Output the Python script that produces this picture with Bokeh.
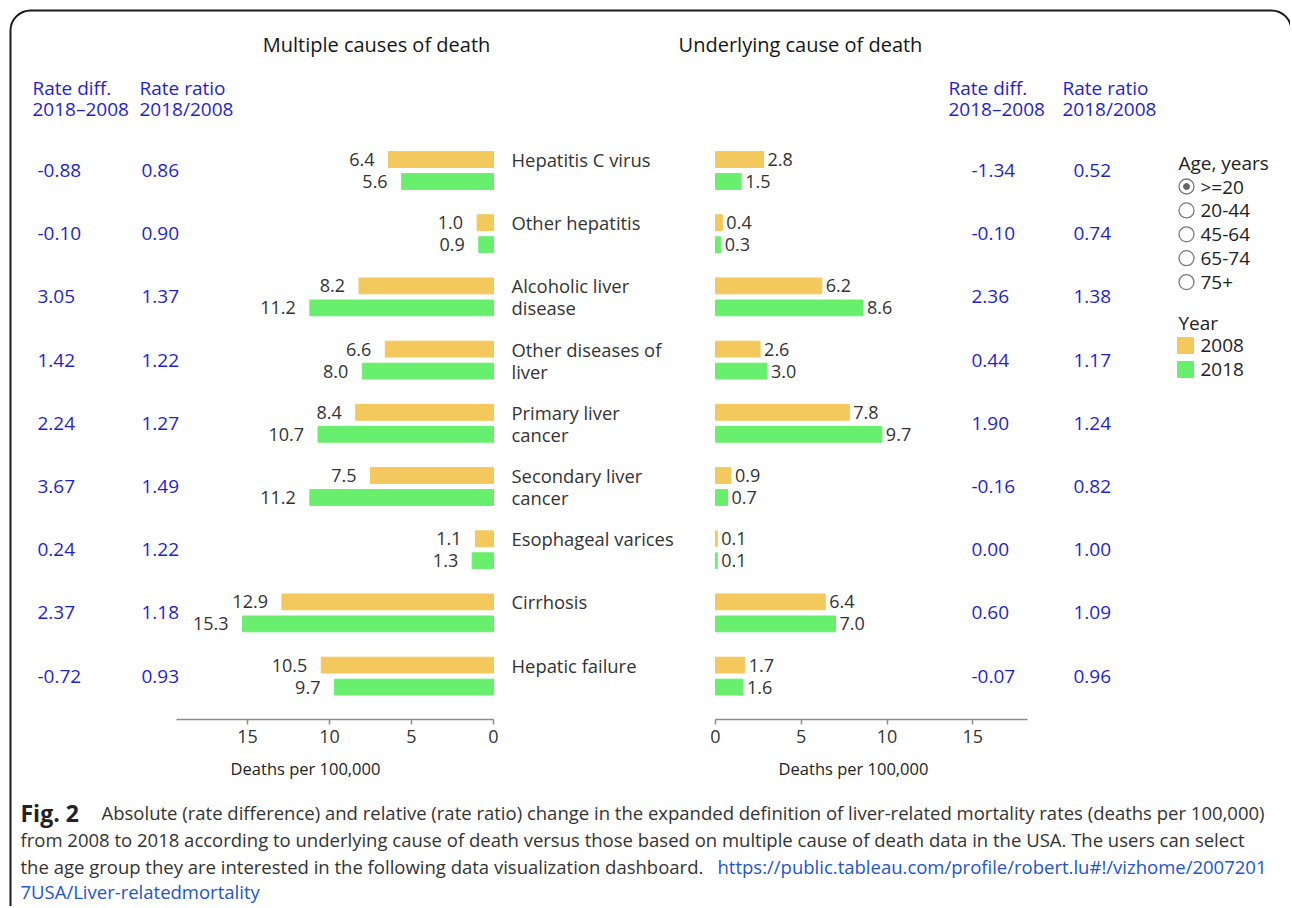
from bokeh.plotting import figure
from bokeh.models import Range1d, LinearAxis, FixedTicker, ColumnDataSource
from bokeh.core.properties import value
from bokeh.embed import file_html
from bokeh.resources import INLINE

# ---------------- data ----------------
categories = ["Hepatitis C virus", "Other hepatitis", "Alcoholic liver\ndisease",
              "Other diseases of\nliver", "Primary liver\ncancer", "Secondary liver\ncancer",
              "Esophageal varices", "Cirrhosis", "Hepatic failure"]
mc_2008 = [6.4, 1.0, 8.2, 6.6, 8.4, 7.5, 1.1, 12.9, 10.5]
mc_2018 = [5.6, 0.9, 11.2, 8.0, 10.7, 11.2, 1.3, 15.3, 9.7]
uc_2008 = [2.8, 0.4, 6.2, 2.6, 7.8, 0.9, 0.1, 6.4, 1.7]
uc_2018 = [1.5, 0.3, 8.6, 3.0, 9.7, 0.7, 0.1, 7.0, 1.6]
mc_diff = ["-0.88", "-0.10", "3.05", "1.42", "2.24", "3.67", "0.24", "2.37", "-0.72"]
mc_ratio = ["0.86", "0.90", "1.37", "1.22", "1.27", "1.49", "1.22", "1.18", "0.93"]
uc_diff = ["-1.34", "-0.10", "2.36", "0.44", "1.90", "-0.16", "0.00", "0.60", "-0.07"]
uc_ratio = ["0.52", "0.74", "1.38", "1.17", "1.24", "0.82", "1.00", "1.09", "0.96"]
axis_ticks = [0, 5, 10, 15]
age_groups = [">=20", "20-44", "45-64", "65-74", "75+"]
years = ["2008", "2018"]
year_colors = ["#F3C85C", "#69EF6E"]

title_mc = "Multiple causes of death"
title_uc = "Underlying cause of death"
axis_title = "Deaths per 100,000"
caption_bold = "Fig. 2"
caption_l1 = ("Absolute (rate difference) and relative (rate ratio) change in the expanded "
              "definition of liver-related mortality rates (deaths per 100,000)")
caption_l2 = ("from 2008 to 2018 according to underlying cause of death versus those based on "
              "multiple cause of death data in the USA. The users can select")
caption_l3 = "the age group they are interested in the following data visualization dashboard."
caption_link1 = "https://public.tableau.com/profile/robert.lu#!/vizhome/2007201"
caption_link2 = "7USA/Liver-relatedmortality"

# ---------------- layout constants ----------------
FONT = "Open Sans"
W, H = 1290, 906
PX0, PY0 = 0, 0
L0, LS = 493.0, 16.4     # left chart: zero position and px per unit (reversed)
R0, RS = 715.0, 17.15    # right chart
Y0, YS = 170.0, 63.2     # first row center, row pitch
OFF, BH = 0.174, 0.25
BLUE = "#1F1FD2"
DARK = "#333333"

p = figure(width=W, height=H, output_backend="svg", toolbar_location=None,
           x_axis_type=None, y_axis_type=None,
           x_range=Range1d(PX0, PX0 + W), y_range=Range1d(PY0 + H, PY0),
           min_border=0, outline_line_color=None, background_fill_color="white",
           border_fill_color="white")
p.extra_x_ranges = {
    "lx": Range1d((L0 - PX0) / LS, (L0 - PX0 - W) / LS),
    "rx": Range1d((PX0 - R0) / RS, (PX0 + W - R0) / RS),
}
p.extra_y_ranges = {"ry": Range1d((PY0 + H - Y0) / YS, (PY0 - Y0) / YS)}

rows = list(range(len(categories)))
rows_a = [r - OFF for r in rows]
rows_b = [r + OFF for r in rows]


def txt(xs, ys, texts, size="17px", color=DARK, align="left", baseline="middle",
        style="normal", xr="default", yr="default", x_offset=0):
    src = ColumnDataSource(dict(x=xs, y=ys, t=texts))
    p.text(x="x", y="y", text="t", source=src, text_font=value(FONT),
           text_font_size=value(size), text_color=color, text_align=align,
           text_baseline=baseline, text_font_style=style, x_offset=x_offset,
           x_range_name=xr, y_range_name=yr)


# border box
p.quad(left=[10], right=[1291], top=[10], bottom=[980], border_radius=20,
       fill_color=None, line_color="#1a1a1a", line_width=2)

# bars
for vals, ys, col in [(mc_2008, rows_a, year_colors[0]), (mc_2018, rows_b, year_colors[1])]:
    p.hbar(y=ys, left=0, right=vals, height=BH, color=col, x_range_name="lx", y_range_name="ry")
for vals, ys, col in [(uc_2008, rows_a, year_colors[0]), (uc_2018, rows_b, year_colors[1])]:
    p.hbar(y=ys, left=0, right=vals, height=BH, color=col, x_range_name="rx", y_range_name="ry")

# bar labels
BL = "18px"
txt(mc_2008, rows_a, [f"{v:.1f}" for v in mc_2008], size=BL, align="right", xr="lx", yr="ry", x_offset=-14)
txt(mc_2018, rows_b, [f"{v:.1f}" for v in mc_2018], size=BL, align="right", xr="lx", yr="ry", x_offset=-14)
txt(uc_2008, rows_a, [f"{v:.1f}" for v in uc_2008], size=BL, align="left", xr="rx", yr="ry", x_offset=4)
txt(uc_2018, rows_b, [f"{v:.1f}" for v in uc_2018], size=BL, align="left", xr="rx", yr="ry", x_offset=4)

# category labels
line1 = [c.split("\n")[0] for c in categories]
line2 = [c.split("\n")[1] if "\n" in c else "" for c in categories]
txt([511] * len(rows), rows_a, line1, size="18.4px", yr="ry")
txt([511] * len(rows), rows_b, line2, size="18.4px", yr="ry")

# rate columns
VS = "19px"
txt([37] * len(rows), rows, mc_diff, size=VS, color=BLUE, yr="ry")
txt([141] * len(rows), rows, mc_ratio, size=VS, color=BLUE, yr="ry")
txt([971] * len(rows), rows, uc_diff, size=VS, color=BLUE, yr="ry")
txt([1073] * len(rows), rows, uc_ratio, size=VS, color=BLUE, yr="ry")

# headers
txt([32, 139, 948, 1062], [87] * 4, ["Rate diff.", "Rate ratio", "Rate diff.", "Rate ratio"], size=VS, color=BLUE)
txt([32, 139, 948, 1062], [108] * 4, ["2018\u20132008", "2018/2008", "2018\u20132008", "2018/2008"], size=VS, color=BLUE)

# titles
txt([376, 800], [44, 44], [title_mc, title_uc], size="20px", color="#151515", align="center")
txt([305, 853], [768, 768], [axis_title, axis_title], size="16.5px", color="#222", align="center")

# axes
for rname, bnd in [("lx", (0, 19.3)), ("rx", (0, 18.2))]:
    ax = LinearAxis(x_range_name=rname, bounds=bnd, ticker=FixedTicker(ticks=axis_ticks),
                    fixed_location=719)
    ax.axis_line_color = "#8c8c8c"
    ax.axis_line_width = 1.5
    ax.major_tick_line_color = "#8c8c8c"
    ax.major_tick_line_width = 1.5
    ax.major_tick_in = 0
    ax.major_tick_out = 5
    ax.minor_tick_line_color = None
    ax.major_label_text_font = FONT
    ax.major_label_text_font_size = "18px"
    ax.major_label_text_color = "#333"
    ax.major_label_standoff = 5
    p.add_layout(ax, "below")

# legend: age
LF = "19px"
age_y = [186 + 23.9 * i for i in range(len(age_groups))]
txt([1178], [162], ["Age, years"], size=LF, color="#222")
p.scatter(x=[1186] * len(age_groups), y=age_y, marker="circle", size=15,
          fill_color="white", line_color="#7a7a7a", line_width=1.3)
p.scatter(x=[1186], y=age_y[:1], marker="circle", size=6, fill_color="#666", line_color="#666")
txt([1200] * len(age_groups), age_y, age_groups, size=LF, color="#222")

# legend: year
year_y = [345, 369]
txt([1178], [322], ["Year"], size=LF, color="#222")
p.rect(x=[1185] * 2, y=year_y, width=16, height=16, color=year_colors)
txt([1200] * 2, year_y, years, size=LF, color="#222")

# caption
CS = "18.5px"
txt([20], [812], [caption_bold], size="23px", color="#222", style="bold")
txt([101], [812], [caption_l1], size=CS, color="#333")
txt([20], [839], [caption_l2], size=CS, color="#333")
txt([20], [866], [caption_l3], size=CS, color="#333")
txt([717], [866], [caption_link1], size=CS, color="#2255D0")
txt([20], [891], [caption_link2], size=CS, color="#2255D0")

open("out.html", "w").write(file_html(p, INLINE))
